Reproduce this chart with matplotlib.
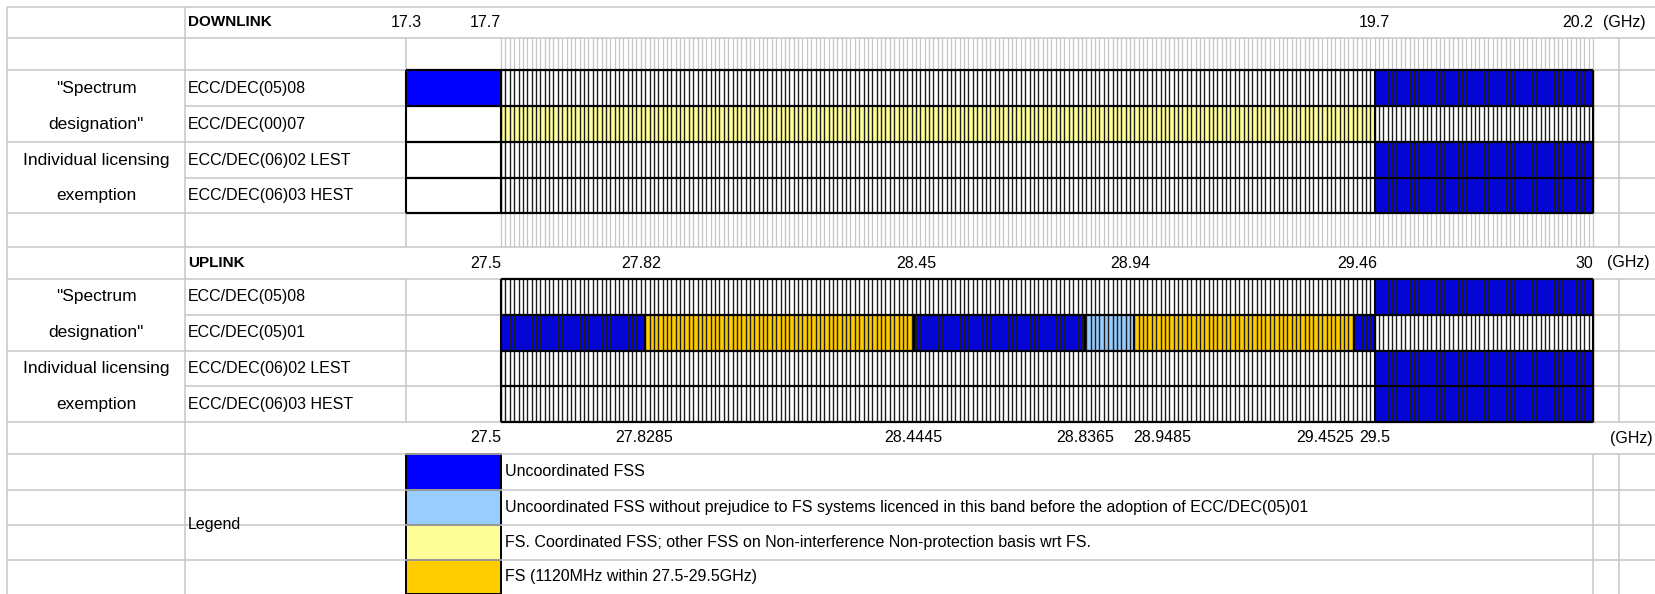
import numpy as np
import matplotlib
matplotlib.use("Agg")
from matplotlib import pyplot as plt

plt.rcParams['font.family'] = ['Liberation Sans', 'DejaVu Sans']

# ---------------- data ----------------
downlink_edges = [17.3, 17.7, 19.7, 20.2]
uplink_top_ticks = [27.5, 27.82, 28.45, 28.94, 29.46, 30.0]
uplink_bottom_ticks = [27.5, 27.8285, 28.4445, 28.8365, 28.9485, 29.4525, 29.5]

downlink_rows = ["ECC/DEC(05)08", "ECC/DEC(00)07", "ECC/DEC(06)02 LEST", "ECC/DEC(06)03 HEST"]
uplink_rows = ["ECC/DEC(05)08", "ECC/DEC(05)01", "ECC/DEC(06)02 LEST", "ECC/DEC(06)03 HEST"]
group_lines = ['"Spectrum', 'designation"', 'Individual licensing', 'exemption']

# (start GHz, end GHz, category) - None means not designated
downlink_bands = [
    [(17.3, 17.7, "unc"), (17.7, 19.7, None), (19.7, 20.2, "unc")],
    [(17.3, 17.7, None), (17.7, 19.7, "fs_coord"), (19.7, 20.2, None)],
    [(17.3, 17.7, None), (17.7, 19.7, None), (19.7, 20.2, "unc")],
    [(17.3, 17.7, None), (17.7, 19.7, None), (19.7, 20.2, "unc")],
]
uplink_bands = [
    [(27.5, 29.5, None), (29.5, 30.0, "unc")],
    [(27.5, 27.8285, "unc"), (27.8285, 28.4445, "fs_1120"), (28.4445, 28.8365, "unc"),
     (28.8365, 28.9485, "unc_np"), (28.9485, 29.4525, "fs_1120"), (29.4525, 29.5, "unc"),
     (29.5, 30.0, None)],
    [(27.5, 29.5, None), (29.5, 30.0, "unc")],
    [(27.5, 29.5, None), (29.5, 30.0, "unc")],
]

legend_keys = ["unc", "unc_np", "fs_coord", "fs_1120"]
legend_labels = [
    "Uncoordinated FSS",
    "Uncoordinated FSS without prejudice to FS systems licenced in this band before the adoption of ECC/DEC(05)01",
    "FS. Coordinated FSS; other FSS on Non-interference Non-protection basis wrt FS.",
    "FS (1120MHz within 27.5-29.5GHz)",
]
colors = {"unc": "#0000ff", "unc_np": "#99ccff", "fs_coord": "#ffff99", "fs_1120": "#ffcc00"}
channel = 0.01  # 10 MHz spreadsheet columns

# ---------------- layout (pixels) ----------------
W, H = 1656, 594
X0, X1, X2, X3, X4 = 7, 185, 406, 1593, 1619
rows = [7, 38, 70, 106, 142, 178, 213, 247, 279, 315, 351, 386, 422, 454, 490, 525, 560, 594]
dl_rows = rows[2:7]
ul_rows = rows[8:13]
leg_rows = rows[13:18]
GRID = "#c6c6c6"
FS = 11.5

fig = plt.figure(figsize=(W / 100, H / 100), dpi=100)
ax = fig.add_axes([0, 0, 1, 1])
ax.set_xlim(0, W)
ax.set_ylim(H, 0)
ax.axis("off")

# spreadsheet grid
full = [7, 38, 70, 142, 213, 247, 279, 351, 422, 454]
for y in rows[:-1]:
    ax.hlines(y, X0 if y in full else X1, W, color=GRID, lw=1.1)
for y in leg_rows[1:-1]:
    ax.hlines(y, X0, X1, color=GRID, lw=1.1)
ax.vlines([X0, X1], rows[0], H, color=GRID, lw=1.1)
for ya, yb in [(38, 70), (213, 247), (279, 422)]:
    ax.vlines(X2, ya, yb, color=GRID, lw=1.1)
for ya, yb in [(38, 247), (279, 422), (454, 594)]:
    ax.vlines(X4, ya, yb, color=GRID, lw=1.1)
ax.vlines(X3, 454, 594, color=GRID, lw=1.1)

# row labels
for i, name in enumerate(downlink_rows):
    ax.text(X1 + 3, (dl_rows[i] + dl_rows[i + 1]) / 2, name, va="center", ha="left", fontsize=FS)
for i, name in enumerate(uplink_rows):
    ax.text(X1 + 3, (ul_rows[i] + ul_rows[i + 1]) / 2, name, va="center", ha="left", fontsize=FS)
for r in (dl_rows, ul_rows):
    for i, line in enumerate(group_lines):
        ax.text((X0 + X1) / 2, (r[i] + r[i + 1]) / 2, line, va="center", ha="center", fontsize=FS + 1)
ax.text(X1 + 3, (rows[0] + rows[1]) / 2, "DOWNLINK", va="center", ha="left", fontsize=FS - 0.5, fontweight="bold")
ax.text(X1 + 3, (rows[7] + rows[8]) / 2, "UPLINK", va="center", ha="left", fontsize=FS - 0.5, fontweight="bold")
ax.text(1603, (rows[0] + rows[1]) / 2, "(GHz)", va="center", ha="left", fontsize=FS)
ax.text(1607, (rows[7] + rows[8]) / 2, "(GHz)", va="center", ha="left", fontsize=FS)
ax.text(W - 3, (rows[12] + rows[13]) / 2, "(GHz)", va="center", ha="right", fontsize=FS)
ax.text(X1 + 3, (leg_rows[0] + leg_rows[-1]) / 2, "Legend", va="center", ha="left", fontsize=FS)

# legend
for i, (key, label) in enumerate(zip(legend_keys, legend_labels)):
    ya, yb = leg_rows[i], leg_rows[i + 1]
    ax.add_patch(plt.Rectangle((X2, ya), 501 - X2, yb - ya, facecolor=colors[key],
                               edgecolor="black", lw=1.4))
    ax.text(505, (ya + yb) / 2, label, va="center", ha="left", fontsize=FS)


def band_axes(split, lo, hi, k=0.544):
    fwd = lambda f: np.where(f < split, split - (split - f) * k, f)
    inv = lambda u: np.where(u < split, split - (split - u) / k, u)
    bx = fig.add_axes([X2 / W, 0, (X3 - X2) / W, 1])
    bx.set_xscale("function", functions=(fwd, inv))
    bx.set_xlim(lo, hi)
    bx.set_ylim(H, 0)
    bx.axis("off")
    return bx


def draw_band(bx, bands, edges_y, start, stop):
    cols = start + channel * np.arange(int(round((stop - start) / channel)) + 1)
    for i, segs in enumerate(bands):
        ya, yb = edges_y[i], edges_y[i + 1]
        for s, e, cat in segs:
            if cat is not None:
                bx.barh((ya + yb) / 2, e - s, left=s, height=yb - ya, color=colors[cat],
                        edgecolor="none", zorder=1)
        bx.vlines(cols, ya, yb, color="#1e1e1e", lw=1.0, zorder=2, clip_on=False)
        edges = sorted({s for s, e, c in segs} | {e for s, e, c in segs})
        bx.vlines(edges, ya, yb, color="black", lw=1.5, zorder=3, clip_on=False)
    lo = min(s for segs in bands for s, e, c in segs)
    bx.hlines(edges_y, lo, stop, color="black", lw=1.6, zorder=3, clip_on=False)


dl = band_axes(downlink_edges[1], downlink_edges[0], downlink_edges[-1])
ul = band_axes(uplink_top_ticks[0], uplink_top_ticks[0] - 0.4, uplink_top_ticks[-1])

# empty separator rows show the light column grid
dl_cols = downlink_edges[1] + channel * np.arange(251)
dl.vlines(dl_cols, rows[1], rows[2], color=GRID, lw=0.9, clip_on=False)
dl.vlines(dl_cols, rows[6], rows[7], color=GRID, lw=0.9, clip_on=False)

draw_band(dl, downlink_bands, dl_rows, downlink_edges[1], downlink_edges[-1])
draw_band(ul, uplink_bands, ul_rows, uplink_top_ticks[0], uplink_top_ticks[-1])

# frequency labels
y_dl = (rows[0] + rows[1]) / 2
y_ul = (rows[7] + rows[8]) / 2
y_bot = (rows[12] + rows[13]) / 2
for f, ha in zip(downlink_edges, ["center", "right", "center", "right"]):
    dl.text(f, y_dl, f"{f:g}", ha=ha, va="center", fontsize=FS)
for f, ha in zip(uplink_top_ticks, ["right", "center", "center", "center", "center", "right"]):
    ul.text(f, y_ul, f"{f:g}", ha=ha, va="center", fontsize=FS)
for f, ha in zip(uplink_bottom_ticks, ["right", "center", "center", "center", "left", "right", "center"]):
    ul.text(f, y_bot, f"{f:g}", ha=ha, va="center", fontsize=FS)

fig.savefig("out.png", dpi=100, facecolor="white")
